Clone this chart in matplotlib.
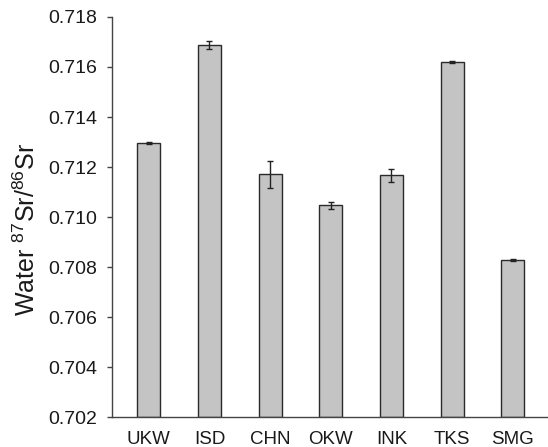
import matplotlib
matplotlib.use("Agg")
import matplotlib.pyplot as plt

plt.rcParams['font.family'] = ['Liberation Sans', 'DejaVu Sans']
plt.rcParams['mathtext.fontset'] = 'custom'
plt.rcParams['mathtext.rm'] = 'Liberation Sans'
plt.rcParams['mathtext.it'] = 'Liberation Sans'

sites = ['UKW', 'ISD', 'CHN', 'OKW', 'INK', 'TKS', 'SMG']
sr_ratio = [0.71296, 0.71687, 0.71171, 0.71047, 0.71167, 0.71619, 0.70828]
sr_err = [0.00003, 0.00017, 0.00055, 0.00015, 0.00026, 0.00004, 0.00003]
y_ticks = [0.702, 0.704, 0.706, 0.708, 0.710, 0.712, 0.714, 0.716, 0.718]

fig = plt.figure(figsize=(5.48, 4.47), dpi=100)
ax = fig.add_axes([0.204, 0.067, 0.796, 0.895])

base = 0.702
x = range(len(sites))
heights = [v - base for v in sr_ratio]
ax.bar(x, heights, bottom=base, width=0.38, color='#c4c4c4',
       edgecolor='#2a2a2a', linewidth=1.0, zorder=2)
ax.errorbar(x, sr_ratio, yerr=sr_err, fmt='none', ecolor='#222222',
            elinewidth=1.0, capsize=2.5, capthick=1.0, zorder=3)

ax.set_xlim(-0.61, 6.58)
ax.set_ylim(0.702, 0.718)
ax.set_yticks(y_ticks)
ax.set_yticklabels([f'{t:.3f}' for t in y_ticks])
ax.set_xticks(list(x))
ax.set_xticklabels(sites)

for side in ('top', 'right'):
    ax.spines[side].set_visible(False)
for side in ('left', 'bottom'):
    ax.spines[side].set_color('#444444')
    ax.spines[side].set_linewidth(1.0)

ax.tick_params(axis='y', direction='out', length=3.6, width=1.0,
               color='#444444', labelsize=14, pad=7, labelcolor='#1a1a1a')
ax.tick_params(axis='x', length=0, labelsize=13.5, pad=10, labelcolor='#1a1a1a')

ax.set_ylabel(r'Water $^{87}$Sr/$^{86}$Sr', fontsize=18, color='#1a1a1a')
ax.yaxis.set_label_coords(-0.165, 0.47)

fig.savefig('out.png', dpi=100)
